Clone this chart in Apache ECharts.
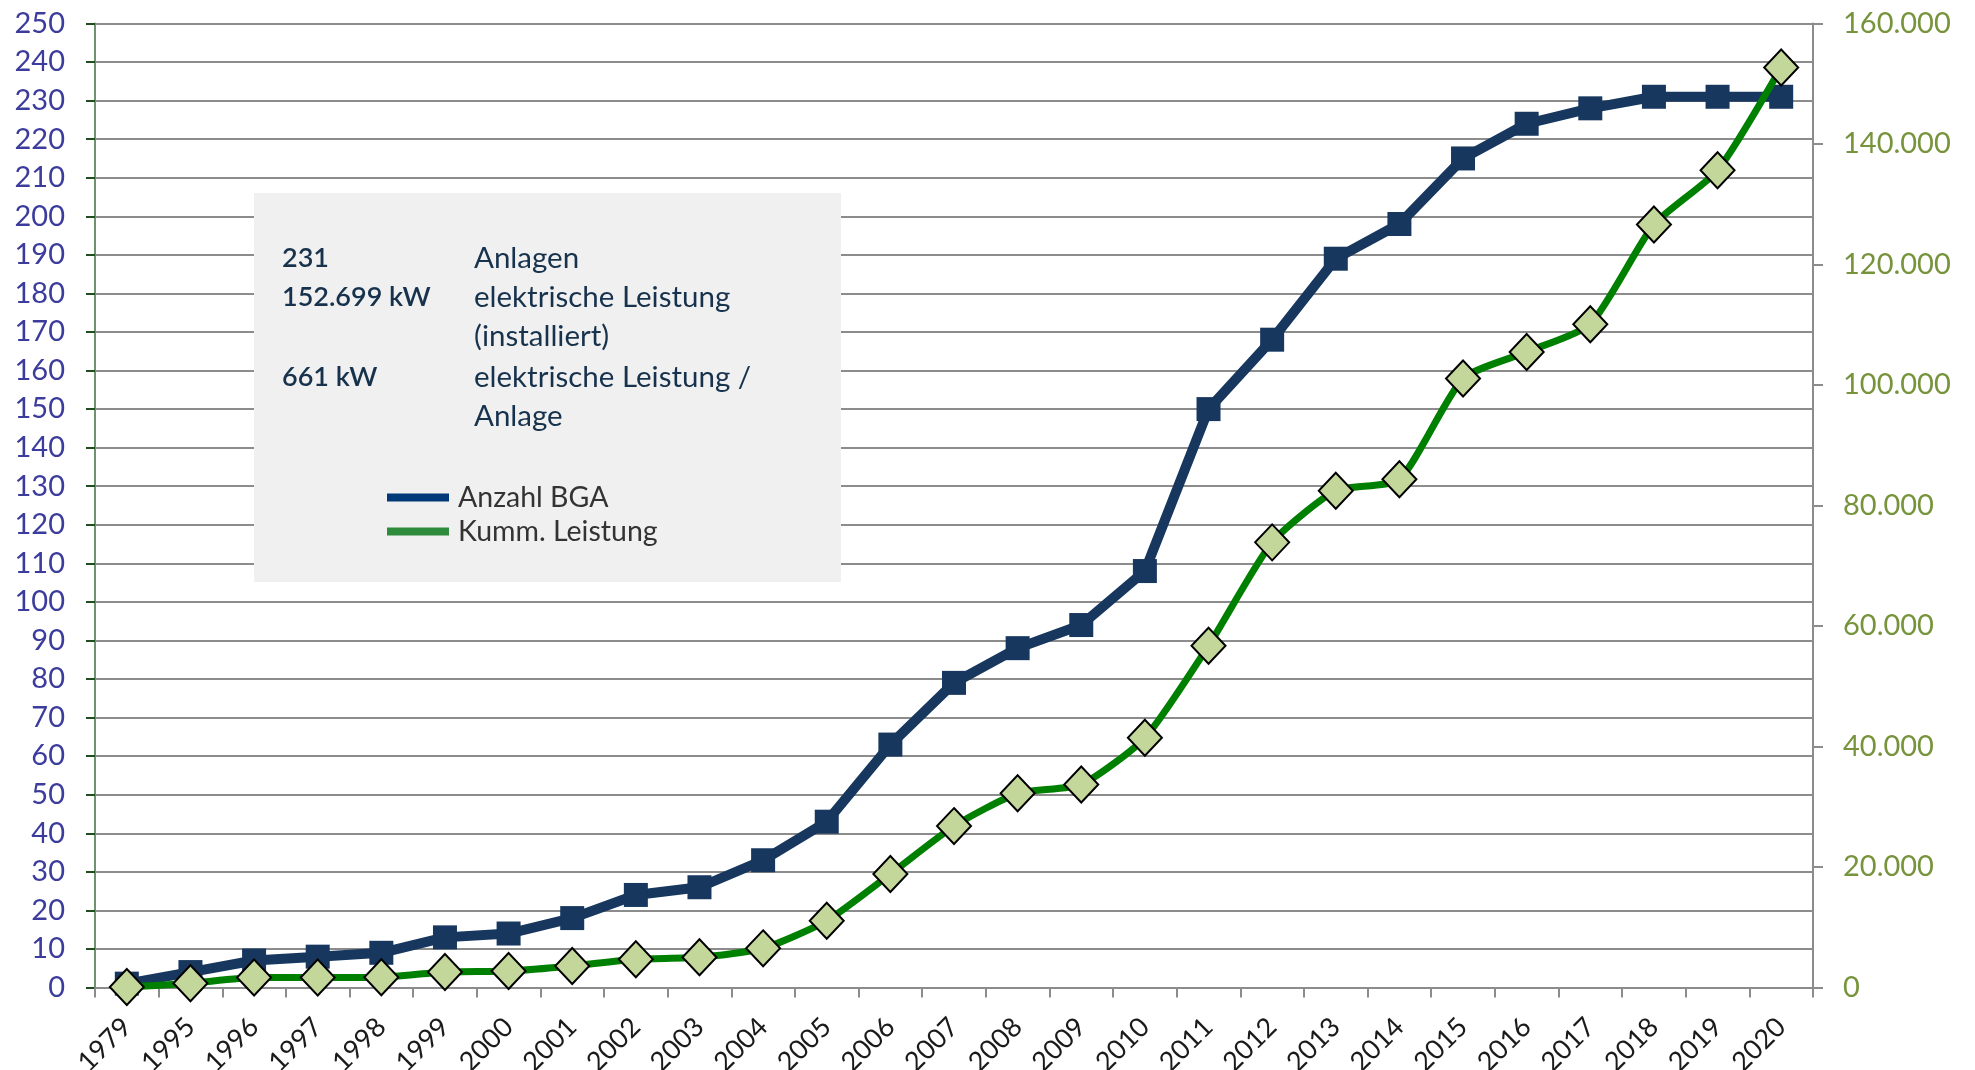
<!DOCTYPE html>
<html>
<head>
<meta charset="utf-8">
<script src="https://cdn.jsdelivr.net/npm/echarts@6/dist/echarts.min.js"></script>
<style>
html,body{margin:0;padding:0;background:#fff;}
#chart{width:1975px;height:1070px;}
</style>
</head>
<body>
<div id="chart"></div>
<script>
const years = ['1979','1995','1996','1997','1998','1999','2000','2001','2002','2003','2004','2005','2006','2007','2008','2009','2010','2011','2012','2013','2014','2015','2016','2017','2018','2019','2020'];
const anzahlBGA = [1,4,7,8,9,13,14,18,24,26,33,43,63,79,88,94,108,150,168,189,198,215,224,228,231,231,231];
const kummLeistung = [80,700,1650,1650,1700,2570,2740,3570,4680,5010,6500,11090,18840,26790,32230,33700,41440,56720,73880,82460,84350,101090,105490,110090,126630,135630,152699];
const infoLeft = ['231','152.699 kW','','661 kW',''];
const infoRight = ['Anlagen','elektrische Leistung','(installiert)','elektrische Leistung /','Anlage'];
const seriesNames = ['Anzahl BGA','Kumm. Leistung'];

const FONT = 'Lato, "Open Sans", sans-serif';
const chart = echarts.init(document.getElementById('chart'));

const graphics = [{
  type:'rect', left:254, top:193, z:1,
  shape:{width:587, height:389},
  style:{fill:'#f0f0f0'}
}];
const lineY = [258, 297, 336, 377, 416];
infoLeft.forEach((t,i)=>{
  if(!t) return;
  graphics.push({type:'text', z:3, x:282, y:lineY[i],
    style:{text:t, fill:'#17324d', font:'600 27px '+FONT, textVerticalAlign:'middle', verticalAlign:'middle'}});
});
infoRight.forEach((t,i)=>{
  graphics.push({type:'text', z:3, x:474, y:lineY[i],
    style:{text:t, fill:'#17324d', font:'29.5px '+FONT, textVerticalAlign:'middle', verticalAlign:'middle'}});
});

const deFmt = v => String(v).replace(/\B(?=(\d{3})+(?!\d))/g,'.');

chart.setOption({
  animation:false,
  backgroundColor:'#fff',
  textStyle:{fontFamily:FONT},
  grid:{left:95, right:162, top:23.5, bottom:82.5, containLabel:false, outerBoundsMode:'none'},
  graphic:graphics,
  legend:{
    orient:'vertical', left:382, top:478, z:5,
    itemWidth:62, itemHeight:8, itemGap:5,
    textStyle:{fontSize:28.5, color:'#333', fontFamily:FONT, lineHeight:28, padding:[0,0,0,4]},
    data:[
      {name:seriesNames[0], icon:'rect', itemStyle:{color:'#003a78', borderWidth:0}},
      {name:seriesNames[1], icon:'rect', itemStyle:{color:'#2e8b3c', borderWidth:0}}
    ]
  },
  xAxis:{
    type:'category', data:years, boundaryGap:true,
    axisLine:{show:true, lineStyle:{color:'#8c8c8c', width:2}},
    axisTick:{show:true, length:10, interval:0, lineStyle:{color:'#8c8c8c', width:2}},
    axisLabel:{interval:0, rotate:45, fontSize:27, color:'#1a1a1a', margin:35, fontFamily:FONT},
    splitLine:{show:false}
  },
  yAxis:[{
    type:'value', min:0, max:250, interval:10, position:'left',
    axisLine:{show:true, lineStyle:{color:'#6f926f', width:2}},
    axisTick:{show:true, length:9, lineStyle:{color:'#1f4d1f', width:2}},
    axisLabel:{fontSize:29, color:'#3c3c9c', margin:30, fontFamily:FONT},
    splitLine:{show:true, lineStyle:{color:'#8c8c8c', width:2}}
  },{
    type:'value', min:0, max:160000, interval:20000, position:'right',
    axisLine:{show:true, lineStyle:{color:'#8c8c8c', width:2}},
    axisTick:{show:true, length:10, lineStyle:{color:'#8c8c8c', width:2}},
    axisLabel:{fontSize:29, color:'#77933c', margin:30, fontFamily:FONT, formatter:deFmt},
    splitLine:{show:false}
  }],
  series:[{
    name:seriesNames[0], type:'line', yAxisIndex:0, data:anzahlBGA,
    symbol:'rect', symbolSize:24, showSymbol:true, showAllSymbol:true,
    lineStyle:{color:'#17375e', width:10},
    itemStyle:{color:'#17375e'},
    z:3
  },{
    name:seriesNames[1], type:'line', yAxisIndex:1, data:kummLeistung,
    smooth:0.2, symbol:'diamond', symbolSize:[34,36], showSymbol:true, showAllSymbol:true,
    lineStyle:{color:'#008000', width:7},
    itemStyle:{color:'#c4d79b', borderColor:'#000', borderWidth:2},
    z:4
  }]
});
</script>
</body>
</html>
